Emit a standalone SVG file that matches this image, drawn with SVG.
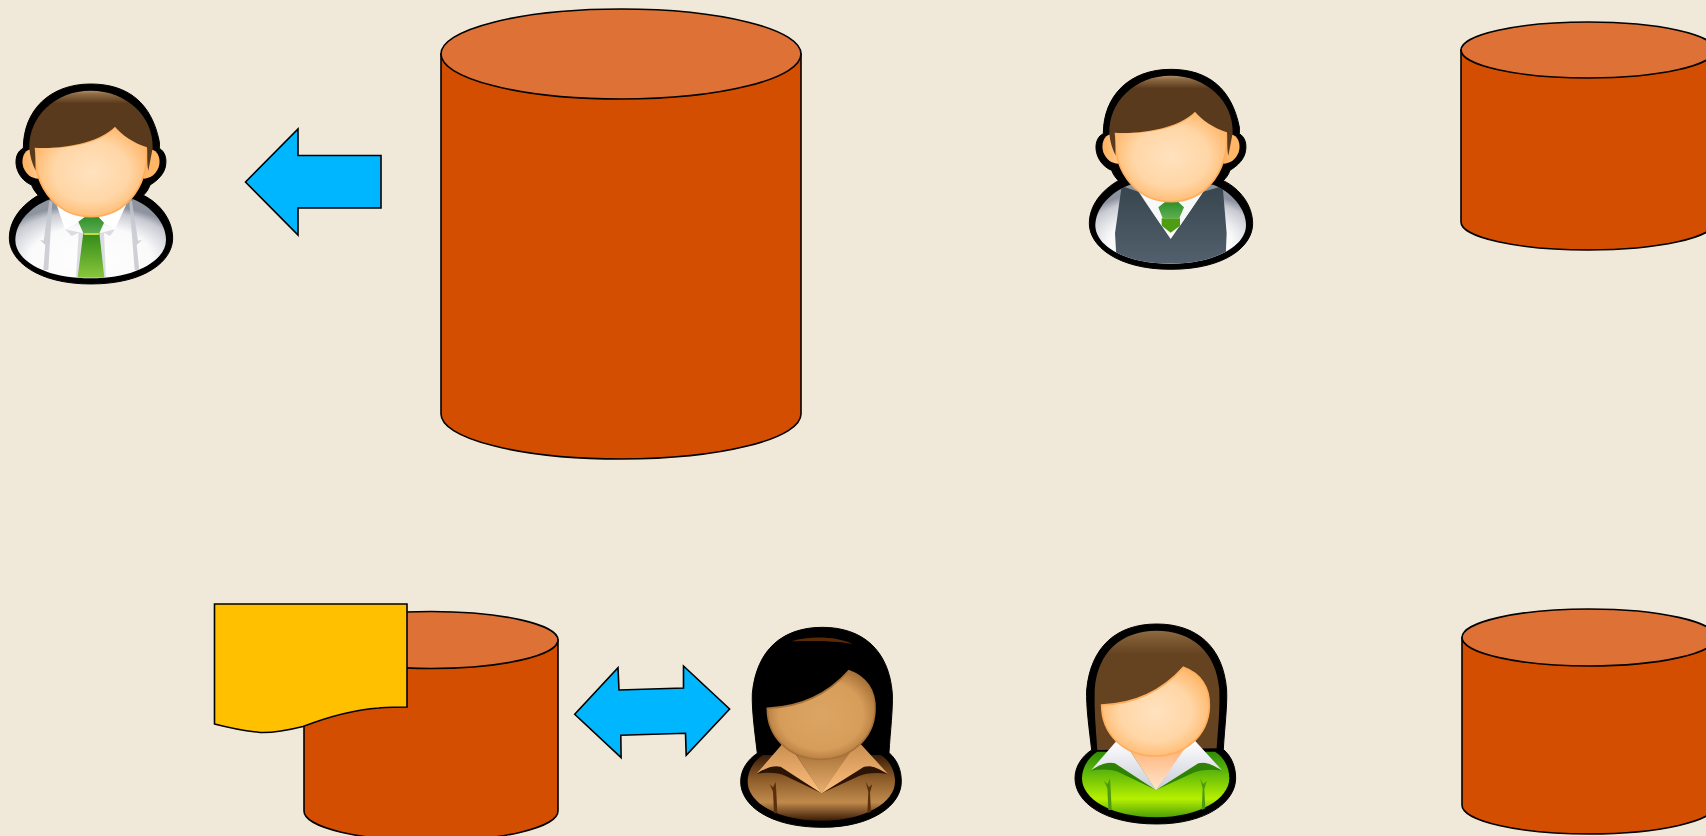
<svg xmlns="http://www.w3.org/2000/svg" xmlns:xlink="http://www.w3.org/1999/xlink" width="1706" height="836" viewBox="0 0 1706 836">
<style>
.side{fill:#d34e00;stroke:#000;stroke-width:1.6}
.top{fill:#dd7136;stroke:#000;stroke-width:1.6}
.arrow{fill:#00b7ff;stroke:#000;stroke-width:1.6;stroke-linejoin:miter}
.doc{fill:#ffc000;stroke:#000;stroke-width:1.6}
.sil{fill:#000;stroke:#000;stroke-width:3;stroke-linejoin:round}
</style>
<defs>
<radialGradient id="faceG" cx=".5" cy=".5" r=".56"><stop offset="0" stop-color="#ffe2bf"/><stop offset=".6" stop-color="#ffd6a6"/><stop offset="1" stop-color="#ffb566"/></radialGradient>
<radialGradient id="faceD" cx=".5" cy=".5" r=".56"><stop offset="0" stop-color="#dca563"/><stop offset=".7" stop-color="#d69c5a"/><stop offset="1" stop-color="#a87238"/></radialGradient>
<linearGradient id="earG" x1="0" y1="0" x2="1" y2="0"><stop offset="0" stop-color="#ffb05c"/><stop offset="1" stop-color="#ffc98e"/></linearGradient>
<linearGradient id="hairM" x1="0" y1="0" x2="0" y2="1"><stop offset="0" stop-color="#b08c68"/><stop offset=".045" stop-color="#8e6a44"/><stop offset=".16" stop-color="#5a3a1c"/><stop offset="1" stop-color="#5a3a1c"/></linearGradient>
<linearGradient id="hairF" x1="0" y1="0" x2="0" y2="1"><stop offset="0" stop-color="#8d6a42"/><stop offset=".09" stop-color="#7a5630"/><stop offset=".2" stop-color="#654321"/><stop offset="1" stop-color="#654321"/></linearGradient>
<radialGradient id="shirtG" cx=".5" cy=".75" r=".68"><stop offset="0" stop-color="#fff"/><stop offset=".6" stop-color="#fafafb"/><stop offset=".88" stop-color="#c8cad2"/><stop offset="1" stop-color="#8e93a0"/></radialGradient>
<linearGradient id="tieG" x1="0" y1="0" x2="0" y2="1"><stop offset="0" stop-color="#2f8a18"/><stop offset="1" stop-color="#8ac53c"/></linearGradient>
<linearGradient id="knotG" x1="0" y1="0" x2="0" y2="1"><stop offset="0" stop-color="#2f8f2a"/><stop offset="1" stop-color="#5fae52"/></linearGradient>
<linearGradient id="vestG" x1="0" y1="0" x2="0" y2="1"><stop offset="0" stop-color="#37454e"/><stop offset="1" stop-color="#566472"/></linearGradient>
<linearGradient id="greenG" x1="0" y1="0" x2="0" y2="1"><stop offset="0" stop-color="#2f8a06"/><stop offset=".3" stop-color="#5cb60a"/><stop offset=".72" stop-color="#b6f000"/><stop offset="1" stop-color="#4c9f08"/></linearGradient>
<linearGradient id="brownG" x1="0" y1="0" x2="0" y2="1"><stop offset="0" stop-color="#3a1c06"/><stop offset=".35" stop-color="#8a5a28"/><stop offset=".72" stop-color="#c08a4c"/><stop offset="1" stop-color="#3a1c06"/></linearGradient>
<linearGradient id="collarW" x1="0" y1="0" x2="0" y2="1"><stop offset="0" stop-color="#fff"/><stop offset="1" stop-color="#c9ccd8"/></linearGradient>
<linearGradient id="collarB" x1="0" y1="0" x2="0" y2="1"><stop offset="0" stop-color="#c98e50"/><stop offset="1" stop-color="#ffc07e"/></linearGradient>
<linearGradient id="neckL" x1="0" y1="0" x2="0" y2="1"><stop offset="0" stop-color="#ffb37a"/><stop offset="1" stop-color="#ffe6cc"/></linearGradient>
<linearGradient id="neckD" x1="0" y1="0" x2="0" y2="1"><stop offset="0" stop-color="#a87238"/><stop offset="1" stop-color="#e8b070"/></linearGradient>

<path id="manSil" d="M272 42C385 42 455 100 478 215C479 222 478 228 478 235C495 245 500 265 497 285C494 310 475 330 450 345C445 360 438 368 430 376C480 400 518 450 518 505C518 570 440 642 272 642C110 642 28 570 28 505C28 450 65 405 115 376C105 365 98 355 95 345C70 335 50 310 48 280C47 258 55 242 70 235C70 120 150 42 272 42Z"/>
<path id="manBody" d="M46 510C46 460 90 410 150 388L400 388C455 410 498 460 498 510C498 570 410 625 272 625C130 625 46 570 46 510Z"/>
<clipPath id="vestClip"><path transform="translate(30 -14)" d="M46 510C46 460 90 410 150 388L400 388C455 410 498 460 498 510C498 570 410 625 272 625C130 625 46 570 46 510Z"/></clipPath>
<g id="manHead">
<path d="M92 238C72 240 62 268 70 292C78 314 95 326 115 326L115 238Z" fill="url(#earG)"/>
<path d="M452 238C474 240 484 268 476 292C468 314 450 326 430 326L430 238Z" fill="#ffb666"/>
<path d="M104 232C100 370 185 440 272 440C362 440 445 370 442 228L345 170C300 220 200 235 104 232Z" fill="url(#faceG)" stroke="#ffae5e" stroke-width="5"/>
<path d="M88 235C86 140 165 62 272 62C380 62 462 140 458 235L445 302C440 280 443 250 441 232C400 218 365 195 345 170C300 215 200 238 104 233C107 260 106 285 107 302C96 280 90 260 88 235Z" fill="url(#hairM)"/>
</g>
<path id="womanSil" d="M290 42C410 42 490 110 500 240C502 290 494 350 490 418C515 440 527 470 527 505C527 575 440 642 290 642C130 642 45 575 45 505C45 470 65 440 95 420C88 360 78 290 80 240C92 110 170 42 290 42Z"/>
<path id="womanHair" d="M290 62C395 62 470 125 478 240C480 300 474 360 470 415L112 420C108 360 102 300 104 240C112 125 185 62 290 62Z"/>
<path id="womanBody" d="M66 505C66 470 88 440 112 425L465 425C490 440 508 470 508 505C508 565 420 622 290 622C150 622 66 565 66 505Z"/>
<path id="womanNeck" d="M205 415L288 540L375 415Z"/>
<path id="collarL" d="M170 392L92 482C120 462 145 455 165 460L288 540L205 415Z"/>
<path id="collarR" d="M405 392L487 482C455 462 435 455 415 460L288 540L370 415Z"/>
<path id="womanBand" d="M92 482C120 462 145 455 165 460L288 540L415 460C435 455 455 462 487 482C450 476 420 480 400 488L288 540L180 488C160 478 125 476 92 482Z"/>
<path id="womanFace" d="M125 285C210 282 300 250 370 172C420 190 450 230 448 290C445 380 370 438 285 438C190 438 125 370 125 285Z"/>
<path id="seamL" d="M145 600L142 535L132 512L142 522L150 505L152 535L155 600Z"/>
<path id="seamR" d="M425 600L428 535L420 505L430 522L440 512L433 538L436 595Z"/>
</defs>
<rect width="1706" height="836" fill="#f0e8d8"/>

<g id="connectors">
<polygon class="arrow" points="245.5,182 298,129 298,155.5 381,155.5 381,208 298,208 298,235"/>
<polygon class="arrow" points="574.7,714.3 618,667.7 619,690 683.5,688 683.5,666 729.6,709 686.2,755.3 685.5,733.3 620.8,735.3 621.1,757.7"/>
</g>

<g id="db-top-center">
<path class="side" d="M441 54V414A180 45 0 0 0 801 414V54Z"/>
<ellipse class="top" cx="621" cy="54" rx="180" ry="45"/>
</g>
<g id="db-top-right">
<path class="side" d="M1461 50V222A127 28 0 0 0 1715 222V50Z"/>
<ellipse class="top" cx="1588" cy="50" rx="127" ry="28"/>
</g>
<g id="db-bottom-left">
<path class="side" d="M304 640V811A127 30 0 0 0 558 811V640Z"/>
<ellipse class="top" cx="431" cy="640" rx="127" ry="28.5"/>
</g>
<g id="db-bottom-right">
<path class="side" d="M1462 637.5V805A127 29 0 0 0 1716 805V637.5Z"/>
<ellipse class="top" cx="1589" cy="637.5" rx="127" ry="28.5"/>
</g>
<g id="document">
<path class="doc" d="M214.5 604H407V707C392 707 385 707 379 708C350 710 320 720 303 726.5C285 731 272 733 260 732.5C245 731 230 728 214.5 724Z"/>
</g>

<g id="person-man-shirt" transform="translate(0 70) scale(.3333)">
<use href="#manSil" class="sil"/>
<use href="#manBody" fill="url(#shirtG)"/>
<path d="M148 392L157 395L145 600L130 600L136 525L120 510L131 512ZM396 392L388 395L404 600L418 600L410 525L426 510L414 512Z" fill="#c3c6cc" opacity=".8"/>
<path d="M195 478L215 498L236 488L228 622H246L250 490ZM345 478L330 498L312 488L318 622H305L298 490Z" fill="#d3d4da" opacity=".8"/>
<path d="M170 405L195 478L240 455L255 440L295 440L310 458L345 478L378 405Z" fill="#fff"/>
<path d="M250 488H298L313 623H233Z" fill="url(#tieG)"/>
<path d="M235 455L255 440H295L312 458L298 490H250Z" fill="url(#knotG)"/>
<path d="M250 489H298L296 495H252Z" fill="#c8d840"/>
<use href="#manHead"/>
</g>

<g id="person-man-vest" transform="translate(1070 60) scale(.3333)">
<use href="#manSil" class="sil" x="30" y="-14"/>
<use href="#manBody" fill="url(#shirtG)" x="30" y="-14"/>
<path clip-path="url(#vestClip)" d="M155 378L205 395L302 537L400 395L458 378L470 520L465 640H142L135 520Z" fill="url(#vestG)"/>
<path d="M205 392L275 497L302 520L330 497L402 392Z" fill="#f7f8f8"/>
<path d="M275 475H330V497L302 518L275 497Z" fill="#4c9d12"/>
<path d="M265 442L285 426H325L342 442L328 475H278Z" fill="url(#knotG)"/>
<use href="#manHead" x="30" y="-15"/>
</g>

<g id="person-woman-dark" transform="translate(720 610) scale(.3333)">
<g transform="translate(17 10)">
<use href="#womanSil" class="sil"/>
<use href="#womanBody" fill="url(#brownG)"/>
<use href="#seamL" fill="#5a300c"/>
<use href="#seamR" fill="#5a300c"/>
<use href="#womanHair" fill="#000"/>
<path d="M198 84C250 68 330 68 380 92C330 82 250 82 198 84Z" fill="#5a2a06"/>
<use href="#womanBand" fill="#2c1404"/>
<use href="#collarL" fill="url(#collarB)"/>
<use href="#collarR" fill="url(#collarB)"/>
<use href="#womanNeck" fill="url(#neckD)"/>
<use href="#womanFace" fill="url(#faceD)" stroke="#a87238" stroke-width="5"/>
</g>
</g>

<g id="person-woman-green" transform="translate(1060 610) scale(.3333)">
<use href="#womanSil" class="sil"/>
<use href="#womanBody" fill="url(#greenG)"/>
<use href="#seamL" fill="#4d9a10"/>
<use href="#seamR" fill="#4d9a10"/>
<use href="#womanHair" fill="url(#hairF)"/>
<use href="#womanBand" fill="#2f8206"/>
<use href="#collarL" fill="url(#collarW)"/>
<use href="#collarR" fill="url(#collarW)"/>
<use href="#womanNeck" fill="url(#neckL)"/>
<use href="#womanFace" fill="url(#faceG)" stroke="#ffae5e" stroke-width="5"/>
</g>
</svg>
